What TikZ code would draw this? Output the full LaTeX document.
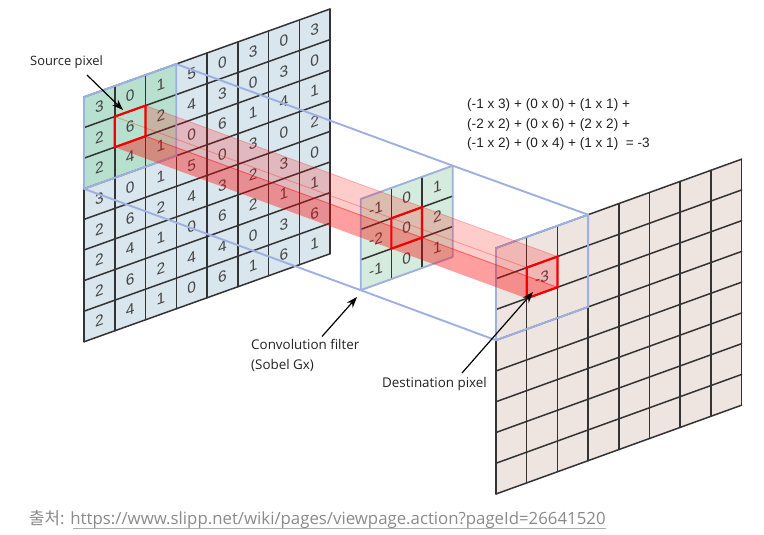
\documentclass[tikz,border=0pt]{standalone}
\usepackage{fontspec}
\setmainfont{Open Sans}
\newfontfamily\krfont{Noto Sans CJK KR}
\newfontfamily\digitfont{Liberation Sans}
\usetikzlibrary{arrows.meta}
\definecolor{gridk}{HTML}{333333}
\definecolor{bluel}{HTML}{9DB0E0}
\definecolor{srcfill}{HTML}{D9E6EE}
\definecolor{srcgreen}{HTML}{B7E1CE}
\definecolor{filtfill}{HTML}{D5EBDD}
\definecolor{dstfill}{HTML}{EEE5E1}
\definecolor{digit}{HTML}{444444}
\definecolor{txt}{HTML}{222222}
\definecolor{src}{HTML}{8A8A8A}
\tikzset{
  gridline/.style={draw=gridk,line width=1.5pt,line cap=round},
  blueline/.style={draw=bluel,line width=1.9pt,line join=round},
  redcell/.style={draw=red!95!black,line width=2.2pt,line join=miter},
  digitnode/.style={font=\digitfont\fontsize{15.5}{15.5}\selectfont,text=digit,inner sep=0pt,yslant=0.36,transform shape},
  lab/.style={font=\fontsize{13.4}{20}\selectfont,text=txt,inner sep=0pt,anchor=west,align=left},
  ptr/.style={draw=black,line width=1.2pt,-{Stealth[length=11pt,width=8pt]}},
  beamlight/.style={fill=red,fill opacity=0.2,draw=red,draw opacity=0.25,line width=.8pt},
  beamdark/.style={fill=red,fill opacity=0.38,draw=none},
  beamedge/.style={draw=red,draw opacity=0.3,line width=.8pt},
}
\begin{document}
\begin{tikzpicture}[x=1pt,y=-1pt]
\useasboundingbox (0,0) rectangle (764,535);
% ---------- source image
\begin{scope}[shift={(84,97)},x={(30.75pt,11pt)},y={(0pt,-30.6pt)}]
  \fill[srcfill] (0,0) -- (8,0) -- (8,8) -- (0,8) -- cycle;
  \fill[srcgreen] (0,0) -- (3,0) -- (3,3) -- (0,3) -- cycle;
  \coordinate (sBlueTR) at (3,0); \coordinate (sBlueBL) at (0,3);
  \coordinate (sTL) at (1,1); \coordinate (sTR) at (2,1);
  \coordinate (sBR) at (2,2); \coordinate (sBL) at (1,2);
  \foreach \col/\vals in {0/{3,2,2,3,2,2,2,2},1/{0,6,4,0,6,4,6,4},2/{1,2,1,1,2,1,2,1},3/{5,4,0,5,4,0,4,0},4/{0,3,6,0,3,6,4,6},5/{3,0,1,3,2,2,0,1},6/{0,3,4,0,3,1,3,6},7/{3,0,1,2,0,1,6,1}}{
    \foreach \v [count=\r from 0] in \vals {
      \node[digitnode] (s-\col-\r) at (\col+.5,\r+.5) {\v};
    }
  }
  \foreach \i in {0,...,8}{
    \draw[gridline] (\i,0) -- (\i,8);
    \draw[gridline] (0,\i) -- (8,\i);
  }
  \draw[blueline] (0,0) -- (3,0) -- (3,3) -- (0,3) -- cycle;
\end{scope}
% ---------- filter
\begin{scope}[shift={(360.7,199)},x={(30.67pt,11.1pt)},y={(0pt,-30.4pt)}]
  \fill[filtfill] (0,0) -- (3,0) -- (3,3) -- (0,3) -- cycle;
  \coordinate (fBlueTR) at (3,0); \coordinate (fBlueBL) at (0,3);
  \foreach \col/\vals in {0/{-1,-2,-1},1/{0,0,0},2/{1,2,1}}{
    \foreach \v [count=\r from 0] in \vals {
      \node[digitnode] (f-\col-\r) at (\col+.5,\r+.5) {\v};
    }
  }
  \foreach \i in {1,2}{
    \draw[gridline] (\i,0) -- (\i,3);
    \draw[gridline] (0,\i) -- (3,\i);
  }
  \draw[blueline] (0,0) -- (3,0) -- (3,3) -- (0,3) -- cycle;
  \coordinate (fTL) at (1,1); \coordinate (fTR) at (2,1);
  \coordinate (fBR) at (2,2); \coordinate (fBL) at (1,2);
\end{scope}
% ---------- destination image
\begin{scope}[shift={(496,248)},x={(30.7pt,11.1pt)},y={(0pt,-30.75pt)}]
  \fill[dstfill] (0,0) -- (8,0) -- (8,8) -- (0,8) -- cycle;
  \foreach \i in {0,...,8}{
    \draw[gridline] (\i,0) -- (\i,8);
    \draw[gridline] (0,\i) -- (8,\i);
  }
  \draw[blueline] (0,0) -- (3,0) -- (3,3) -- (0,3) -- cycle;
  \coordinate (dBlueTR) at (3,0); \coordinate (dBlueBL) at (0,3);
  \coordinate (dTL) at (1,1); \coordinate (dTR) at (2,1);
  \coordinate (dBR) at (2,2); \coordinate (dBL) at (1,2);
  \node[digitnode] (d-result) at (1.5,1.5) {-3};
\end{scope}
% ---------- projection lines
\draw[blueline] (sBlueTR) -- (fBlueTR) -- (dBlueTR);
\draw[blueline] (sBlueBL) -- (fBlueBL) -- (dBlueBL);
% ---------- beam
\path[beamlight] (sTR) -- (dTR) -- (dBR) -- (sBR) -- cycle;
\path[beamdark] (sBR) -- (dBR) -- (dBL) -- (sBL) -- cycle;
\draw[beamedge] (sTL) -- (dTL);
\draw[beamedge] (sBR) -- (dBR);
% ---------- red cells
\draw[redcell] (sTL) -- (sTR) -- (sBR) -- (sBL) -- cycle;
\draw[redcell] (fTL) -- (fTR) -- (fBR) -- (fBL) -- cycle;
\draw[redcell] (dTL) -- (dTR) -- (dBR) -- (dBL) -- cycle;
% ---------- labels
\node[lab,font=\fontsize{12.9}{20}\selectfont] (srclabel) at (30,62) {Source pixel};
\node[lab,font=\digitfont\fontsize{13.6}{19.6}\selectfont] (formula) at (467,124.5) {(-1 x 3) + (0 x 0) + (1 x 1) +\\(-2 x 2) + (0 x 6) + (2 x 2) +\\(-1 x 2) + (0 x 4) + (1 x 1)\ \ = -3};
\node[lab] (convlabel) at (251,355.5) {Convolution filter\\(Sobel Gx)};
\node[lab] (dstlabel) at (382,384) {Destination pixel};
% ---------- pointers
\coordinate (srcstart) at (87,75);
\coordinate (srctip) at (123,110);
\coordinate (convstart) at (322,336.5);
\coordinate (convtip) at (357,297);
\coordinate (dststart) at (462,373);
\coordinate (dsttip) at (533,292);
\draw[ptr] (srcstart) -- (srctip);
\draw[ptr] (convstart) -- (convtip);
\draw[ptr] (dststart) -- (dsttip);
% ---------- source line
\node[inner sep=0pt,anchor=base west,text=src,font=\fontsize{16.8}{17}\selectfont] (credit) at (29,524)
  {{\krfont 출처}: https://www.slipp.net/wiki/pages/viewpage.action?pageId=26641520};
\coordinate (ulA) at (73,528.5);
\coordinate (ulB) at (606,528.5);
\draw[draw=src!70,line width=.8pt] (ulA) -- (ulB);
\end{tikzpicture}
\end{document}
